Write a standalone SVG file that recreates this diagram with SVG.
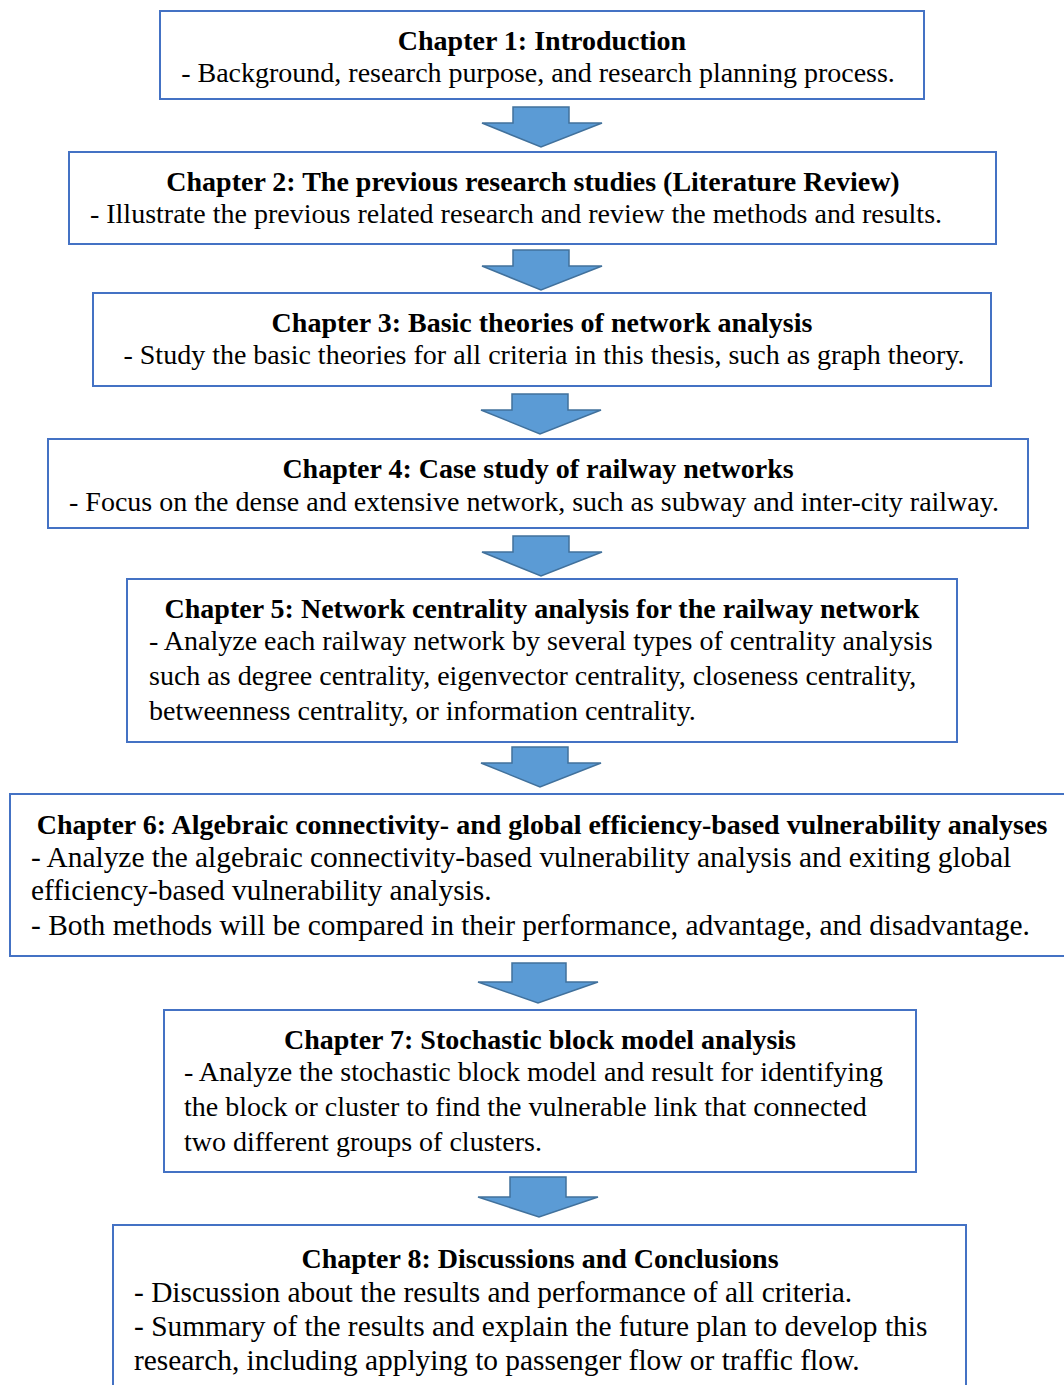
<svg xmlns="http://www.w3.org/2000/svg" width="1064" height="1385" viewBox="0 0 1064 1385">
<style>
.box{fill:#fff;stroke:#4472C4;stroke-width:2}
.t{font-family:"Liberation Serif","Times New Roman",serif;font-size:28px;fill:#000}
.l{font-size:29.4px}
.b{font-weight:bold}
.c{text-anchor:middle}
.arr{fill:#5B9BD5;stroke:#41719C;stroke-width:1.5}
</style>
<rect width="1064" height="1385" fill="#fff"/>
<g id="connectors">
<polygon class="arr" points="513,107 569,107 569,123 602,123 541,147 482,123 513,123"/>
<polygon class="arr" points="513,250 569,250 569,266 602,266 541,290 482,266 513,266"/>
<polygon class="arr" points="512,394 568,394 568,410 601,410 540,434 481,410 512,410"/>
<polygon class="arr" points="513,536 569,536 569,552 602,552 541,576 482,552 513,552"/>
<polygon class="arr" points="512,747 568,747 568,763 601,763 540,787 481,763 512,763"/>
<polygon class="arr" points="512,963 566,963 566,982 598,982 538,1003 478,982 512,982"/>
<polygon class="arr" points="510,1177 566,1177 566,1197 598,1197 539,1217 478,1197 510,1197"/>
</g>
<g id="ch1">
<rect class="box" x="160" y="11" width="764" height="88"/>
<text class="t b c" x="542" y="50">Chapter 1: Introduction</text>
<text class="t c" x="538" y="82">- Background, research purpose, and research planning process.</text>
</g>
<g id="ch2">
<rect class="box" x="69" y="152" width="927" height="92"/>
<text class="t b c" x="533" y="191">Chapter 2: The previous research studies (Literature Review)</text>
<text class="t c" x="516" y="223">- Illustrate the previous related research and review the methods and results.</text>
</g>
<g id="ch3">
<rect class="box" x="93" y="293" width="898" height="93"/>
<text class="t b c" x="542" y="332">Chapter 3: Basic theories of network analysis</text>
<text class="t c" x="544" y="364">- Study the basic theories for all criteria in this thesis, such as graph theory.</text>
</g>
<g id="ch4">
<rect class="box" x="48" y="439" width="980" height="89"/>
<text class="t b c" x="538" y="478">Chapter 4: Case study of railway networks</text>
<text class="t c" x="534" y="511">- Focus on the dense and extensive network, such as subway and inter-city railway.</text>
</g>
<g id="ch5">
<rect class="box" x="127" y="579" width="830" height="163"/>
<text class="t b c" x="542" y="618">Chapter 5: Network centrality analysis for the railway network</text>
<text class="t" x="149" y="650">- Analyze each railway network by several types of centrality analysis</text>
<text class="t" x="149" y="685">such as degree centrality, eigenvector centrality, closeness centrality,</text>
<text class="t" x="149" y="720">betweenness centrality, or information centrality.</text>
</g>
<g id="ch6">
<rect class="box" x="10" y="794" width="1064" height="162"/>
<text class="t b c" x="542" y="834">Chapter 6: Algebraic connectivity- and global efficiency-based vulnerability analyses</text>
<text class="t l" x="31" y="867">- Analyze the algebraic connectivity-based vulnerability analysis and exiting global</text>
<text class="t l" x="31" y="900">efficiency-based vulnerability analysis.</text>
<text class="t l" x="31" y="935">- Both methods will be compared in their performance, advantage, and disadvantage.</text>
</g>
<g id="ch7">
<rect class="box" x="164" y="1010" width="752" height="162"/>
<text class="t b c" x="540" y="1049">Chapter 7: Stochastic block model analysis</text>
<text class="t" x="184" y="1081">- Analyze the stochastic block model and result for identifying</text>
<text class="t" x="184" y="1116">the block or cluster to find the vulnerable link that connected</text>
<text class="t" x="184" y="1151">two different groups of clusters.</text>
</g>
<g id="ch8">
<rect class="box" x="113" y="1225" width="853" height="180"/>
<text class="t b c" x="540" y="1268">Chapter 8: Discussions and Conclusions</text>
<text class="t l" x="134" y="1302">- Discussion about the results and performance of all criteria.</text>
<text class="t l" x="134" y="1336">- Summary of the results and explain the future plan to develop this</text>
<text class="t l" x="134" y="1370">research, including applying to passenger flow or traffic flow.</text>
</g>
</svg>
